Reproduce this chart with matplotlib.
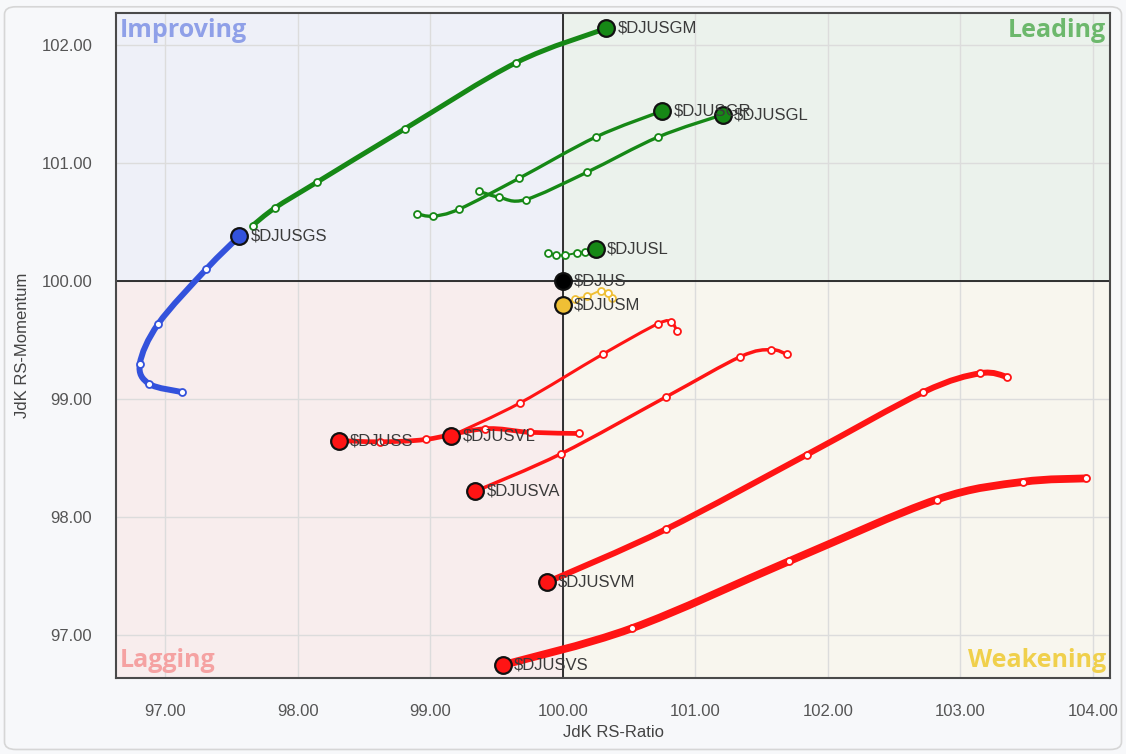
import numpy as np
import matplotlib
matplotlib.use("Agg")
import matplotlib.pyplot as plt
from matplotlib.path import Path
from matplotlib.patches import PathPatch, Rectangle, FancyBboxPatch

# RRG tails, oldest point first, head last (RS-Ratio, RS-Momentum)
djusgm_x = [97.66, 97.83, 98.15, 98.81, 99.65, 100.33]
djusgm_y = [100.47, 100.62, 100.84, 101.29, 101.85, 102.14]

djusgs_x = [97.13, 96.88, 96.81, 96.95, 97.31, 97.56]
djusgs_y = [99.06, 99.13, 99.30, 99.64, 100.10, 100.38]

djusgr_x = [98.90, 99.02, 99.22, 99.67, 100.25, 100.75]
djusgr_y = [100.57, 100.55, 100.61, 100.87, 101.22, 101.44]

djusgl_x = [99.37, 99.52, 99.72, 100.18, 100.72, 101.21]
djusgl_y = [100.76, 100.71, 100.69, 100.92, 101.22, 101.41]

djusl_x = [99.89, 99.95, 100.02, 100.11, 100.17, 100.25]
djusl_y = [100.24, 100.22, 100.22, 100.24, 100.25, 100.27]

djusm_x = [100.37, 100.34, 100.29, 100.18, 100.09, 100.00]
djusm_y = [99.86, 99.90, 99.92, 99.87, 99.85, 99.80]

djuss_x = [100.12, 99.75, 99.41, 98.97, 98.62, 98.31]
djuss_y = [98.71, 98.72, 98.75, 98.66, 98.64, 98.65]

djusvl_x = [100.86, 100.82, 100.72, 100.30, 99.68, 99.16]
djusvl_y = [99.58, 99.65, 99.64, 99.38, 98.97, 98.69]

djusva_x = [101.69, 101.57, 101.34, 100.78, 99.99, 99.34]
djusva_y = [99.38, 99.42, 99.36, 99.02, 98.54, 98.22]

djusvm_x = [103.35, 103.15, 102.72, 101.84, 100.78, 99.88]
djusvm_y = [99.19, 99.22, 99.06, 98.53, 97.90, 97.45]

djusvs_x = [103.95, 103.47, 102.82, 101.71, 100.52, 99.55]
djusvs_y = [98.33, 98.30, 98.15, 97.63, 97.06, 96.75]

djus_x = [100.00]
djus_y = [100.00]

xticks = [97, 98, 99, 100, 101, 102, 103, 104]
yticks = [97, 98, 99, 100, 101, 102]

GREEN = '#168816'
RED = '#ff1414'
BLUE = '#3352dc'
YELLOW = '#efbf35'

# name, x, y, colour, line width (pt)
series = [
    ('$DJUSGM', djusgm_x, djusgm_y, GREEN, 3.6),
    ('$DJUSGS', djusgs_x, djusgs_y, BLUE, 4.3),
    ('$DJUSGR', djusgr_x, djusgr_y, GREEN, 2.4),
    ('$DJUSGL', djusgl_x, djusgl_y, GREEN, 2.4),
    ('$DJUSL', djusl_x, djusl_y, GREEN, 1.4),
    ('$DJUSM', djusm_x, djusm_y, YELLOW, 1.4),
    ('$DJUSS', djuss_x, djuss_y, RED, 3.4),
    ('$DJUSVL', djusvl_x, djusvl_y, RED, 2.2),
    ('$DJUSVA', djusva_x, djusva_y, RED, 2.5),
    ('$DJUSVM', djusvm_x, djusvm_y, RED, 4.3),
    ('$DJUSVS', djusvs_x, djusvs_y, RED, 5.6),
]


def spline_path(xs, ys):
    # catmull-rom through the points, drawn as cubic bezier segments
    p = np.column_stack([xs, ys])
    pts = np.vstack([p[0], p, p[-1]])
    verts = [p[0]]
    codes = [Path.MOVETO]
    for i in range(1, len(pts) - 2):
        p0, p1, p2, p3 = pts[i - 1], pts[i], pts[i + 1], pts[i + 2]
        verts += [p1 + (p2 - p0) / 6, p2 - (p3 - p1) / 6, p2]
        codes += [Path.CURVE4] * 3
    return Path(verts, codes)


plt.rcParams['font.family'] = ['Liberation Sans', 'DejaVu Sans']

fig = plt.figure(figsize=(11.26, 7.54), dpi=100, facecolor='#f7f8fa')
fig.patches.append(FancyBboxPatch((0.004, 0.006), 0.992, 0.985,
                                  boxstyle='round,pad=0,rounding_size=0.01',
                                  transform=fig.transFigure, facecolor='none',
                                  edgecolor='#d6d6d6', lw=1.2))
ax = fig.add_axes([0.103, 0.1008, 0.883, 0.882])

x0, x1 = 96.63, 104.13
y0, y1 = 96.64, 102.27
ax.set_xlim(x0, x1)
ax.set_ylim(y0, y1)

# quadrant backgrounds
ax.add_patch(Rectangle((x0, 100), 100 - x0, y1 - 100, facecolor='#eef0f8', lw=0, zorder=0))
ax.add_patch(Rectangle((100, 100), x1 - 100, y1 - 100, facecolor='#ebf2ec', lw=0, zorder=0))
ax.add_patch(Rectangle((x0, y0), 100 - x0, 100 - y0, facecolor='#f8eded', lw=0, zorder=0))
ax.add_patch(Rectangle((100, y0), x1 - 100, 100 - y0, facecolor='#f8f6ee', lw=0, zorder=0))

ax.set_xticks(xticks)
ax.set_yticks(yticks)
ax.set_xticklabels([f'{v:.2f}' for v in xticks])
ax.set_yticklabels([f'{v:.2f}' for v in yticks])
ax.tick_params(axis='both', length=0, labelsize=12, labelcolor='#555555')
ax.tick_params(axis='x', pad=19)
ax.tick_params(axis='y', pad=17)
ax.grid(True, color='#dcdcdc', lw=1.0, zorder=1)
ax.set_axisbelow(True)
for s in ax.spines.values():
    s.set_color('#4a4a4a')
    s.set_linewidth(1.5)
ax.axvline(100, color='#111111', lw=1.2, zorder=2)
ax.axhline(100, color='#111111', lw=1.2, zorder=2)

ax.set_xlabel('JdK RS-Ratio', fontsize=12, color='#444444', labelpad=4)
ax.set_ylabel('JdK RS-Momentum', fontsize=12, color='#444444', labelpad=8)

qfont = dict(family='Open Sans', fontweight='bold', fontsize=18)
ax.text(0.004, 0.974, 'Improving', transform=ax.transAxes, color='#8fa0e8',
        ha='left', va='center', **qfont)
ax.text(0.996, 0.974, 'Leading', transform=ax.transAxes, color='#6cb86c',
        ha='right', va='center', **qfont)
ax.text(0.004, 0.026, 'Lagging', transform=ax.transAxes, color='#f5a2a2',
        ha='left', va='center', **qfont)
ax.text(0.996, 0.026, 'Weakening', transform=ax.transAxes, color='#f0d04c',
        ha='right', va='center', **qfont)

for name, xs, ys, col, lw in series:
    ax.add_patch(PathPatch(spline_path(xs, ys), facecolor='none', edgecolor=col,
                           lw=lw, capstyle='round', joinstyle='round', zorder=3))
    ax.plot(xs[:-1], ys[:-1], 'o', ms=5, mfc='white', mec=col, mew=1.3, zorder=4)
    ax.plot(xs[-1], ys[-1], 'o', ms=12, mfc=col, mec='#111111', mew=1.6, zorder=5)
    ax.annotate(name, (xs[-1], ys[-1]), xytext=(8, 0), textcoords='offset points',
                va='center', ha='left', fontsize=12, color='#3a3a3a', zorder=6)

ax.plot(djus_x, djus_y, 'o', ms=12, mfc='#000000', mec='#111111', mew=1.6, zorder=5)
ax.annotate('$DJUS', (djus_x[0], djus_y[0]), xytext=(8, 0), textcoords='offset points',
            va='center', ha='left', fontsize=12, color='#3a3a3a', zorder=6)

fig.savefig('out.png', dpi=100, facecolor=fig.get_facecolor())
